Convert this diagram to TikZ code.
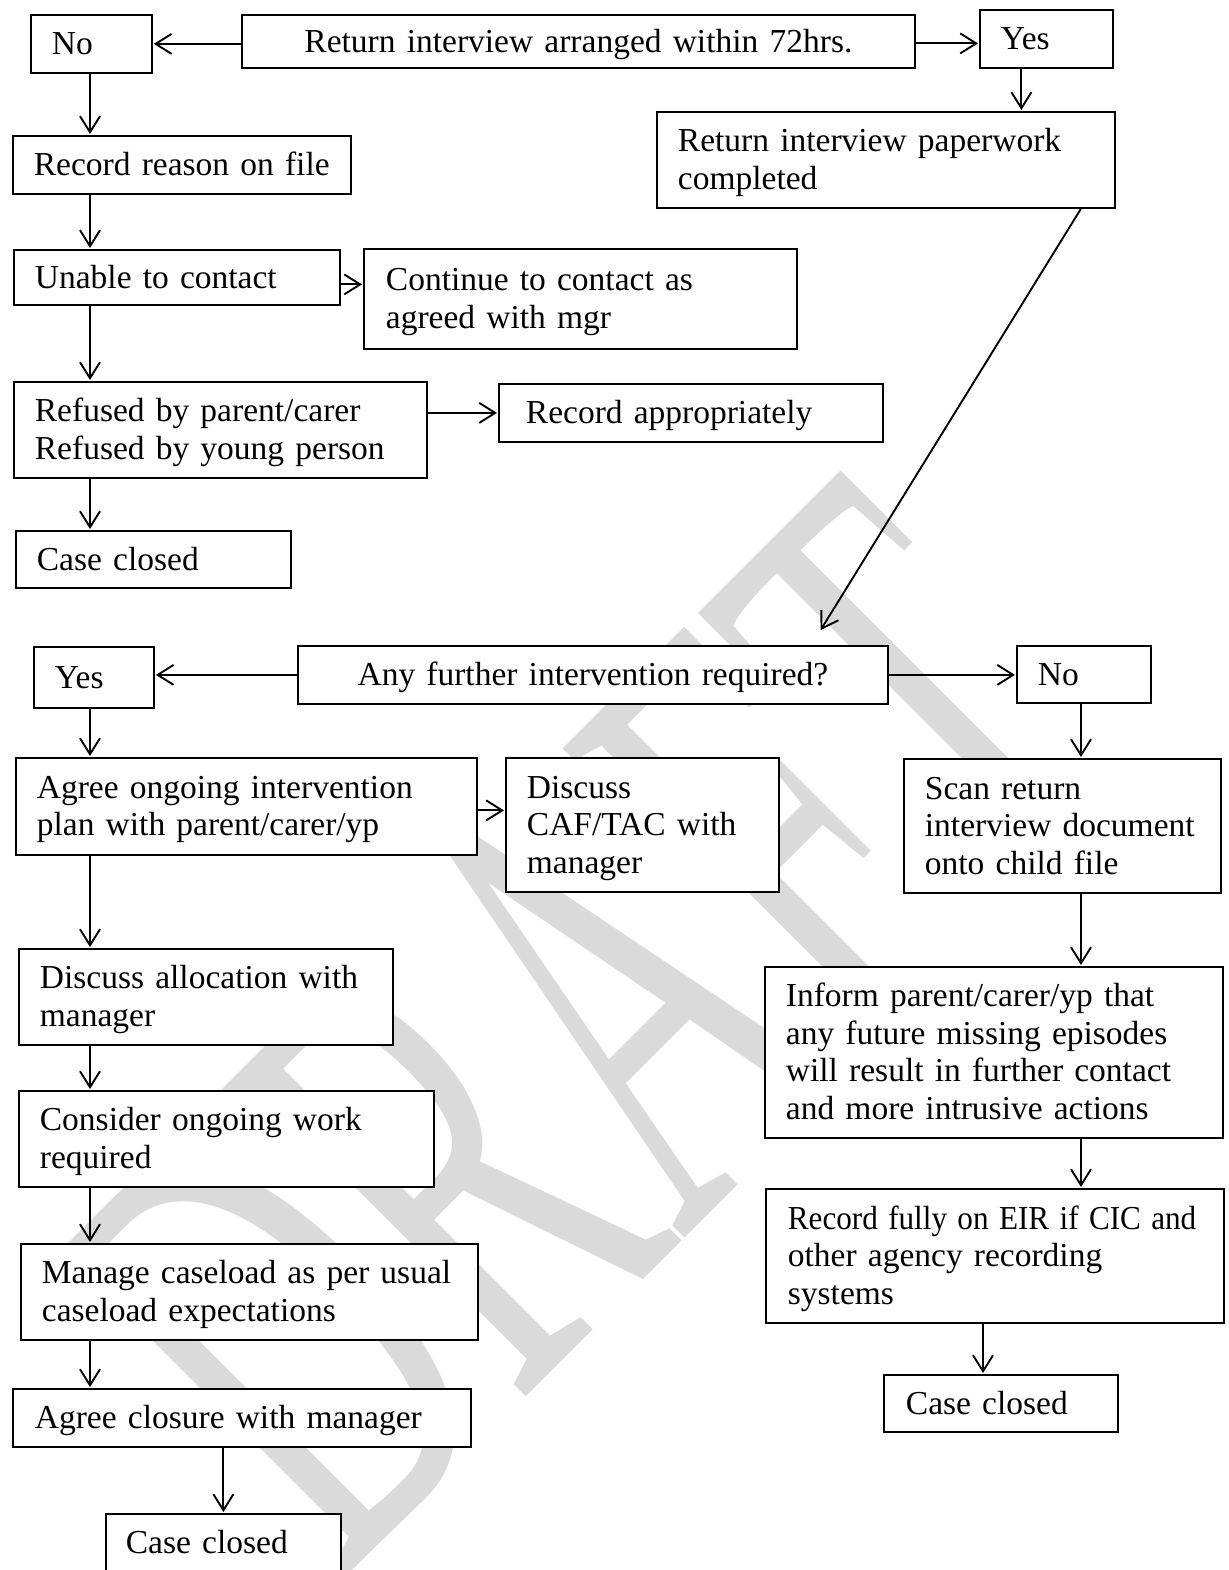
\documentclass[tikz,border=0pt]{standalone}
\usepackage{fontspec}
\setmainfont{Liberation Serif}[WordSpace=0.85]
\usepackage{graphicx}
\usetikzlibrary{arrows.meta,calc}
\definecolor{wm}{RGB}{218,218,218}
\newcommand\sL[1]{\mbox{\vrule height 29.5pt depth 8pt width 0pt\relax #1}}
\tikzset{
  box/.style={draw, line width=1.8pt, fill=white, anchor=north west,
    inner xsep=21pt, inner ysep=0pt, align=left,
    font={\fontsize{33.5}{37.5}\selectfont}},
  arr/.style={line width=1.9pt, shorten >=1pt,
    -{Straight Barb[length=16pt,width=20pt,line width=1.9pt]}},
}
\begin{document}
\begin{tikzpicture}[x=1pt,y=-1pt]
\clip (0,0) rectangle (1228,1570);
\fill[white] (0,0) rectangle (1228,1570);
% watermark
\node[rotate=45, anchor=base west, inner sep=0pt, text=wm] (wmk) at (339,1584)
  {\scalebox{3.5}[6.6]{\fontsize{100}{100}\selectfont DRAFT}};
% helper coordinates
\coordinate (L) at (90,0);
\coordinate (R) at (1081,0);
\coordinate (C2) at (983,0);
\coordinate (qtip) at (820,631);
% boxes
\node[box, minimum width=121pt, minimum height=58pt, text width=79pt] (no1) at (30,14) {\sL{No}};
\node[box, align=center, inner xsep=10pt, minimum width=673pt, minimum height=53pt, text width=653pt] (ret) at (241,14) {\sL{Return interview arranged within 72hrs.}};
\node[box, minimum width=133pt, minimum height=58pt, text width=91pt] (yes1) at (979,9) {\sL{Yes}};
\node[box, minimum width=458pt, minimum height=96pt, text width=416pt] (paper) at (656,111) {\sL{Return interview paperwork}\\\sL{completed}};
\node[box, minimum width=338pt, minimum height=58pt, text width=296pt] (rec) at (12,135) {\sL{Record reason on file}};
\node[box, minimum width=326pt, minimum height=55pt, text width=284pt] (unable) at (13,249) {\sL{Unable to contact}};
\node[box, inner xsep=22pt, minimum width=433pt, minimum height=100pt, text width=389pt] (cont) at (363,248) {\sL{Continue to contact as}\\\sL{agreed with mgr}};
\node[box, minimum width=413pt, minimum height=96pt, text width=371pt] (refused) at (13,381) {\sL{Refused by parent/carer}\\\sL{Refused by young person}};
\node[box, inner xsep=27pt, minimum width=384pt, minimum height=58pt, text width=330pt] (recapp) at (498,383) {\sL{Record appropriately}};
\node[box, minimum width=275pt, minimum height=57pt, text width=233pt] (case1) at (15,530) {\sL{Case closed}};
\node[box, minimum width=120pt, minimum height=61pt, text width=78pt] (yes2) at (33,646) {\sL{Yes}};
\node[box, align=center, inner xsep=10pt, minimum width=590pt, minimum height=58pt, text width=570pt] (q) at (297,645) {\sL{Any further intervention required?}};
\node[box, minimum width=134pt, minimum height=57pt, text width=92pt] (no2) at (1016,645) {\sL{No}};
\node[box, minimum width=461pt, minimum height=97pt, text width=419pt] (agree) at (15,757) {\sL{Agree ongoing intervention}\\\sL{plan with parent/carer/yp}};
\node[box, minimum width=273pt, minimum height=134pt, text width=231pt] (caf) at (505,757) {\sL{Discuss}\\\sL{CAF/TAC with}\\\sL{manager}};
\node[box, minimum width=317pt, minimum height=134pt, text width=275pt] (scan) at (903,758) {\sL{Scan return}\\\sL{interview document}\\\sL{onto child file}};
\node[box, minimum width=374pt, minimum height=96pt, text width=332pt] (alloc) at (18,948) {\sL{Discuss allocation with}\\\sL{manager}};
\node[box, minimum width=458pt, minimum height=171pt, text width=416pt] (inform) at (764,966) {\sL{Inform parent/carer/yp that}\\\sL{any future missing episodes}\\\sL{will result in further contact}\\\sL{and more intrusive actions}};
\node[box, minimum width=415pt, minimum height=96pt, text width=373pt] (consider) at (18,1090) {\sL{Consider ongoing work}\\\sL{required}};
\node[box, inner xsep=22pt, minimum width=458pt, minimum height=134pt, text width=414pt] (recfull) at (765,1188) {\sL{\scalebox{0.93}[1]{Record fully on EIR if CIC and}}\\\sL{other agency recording}\\\sL{systems}};
\node[box, minimum width=457pt, minimum height=96pt, text width=415pt] (manage) at (20,1243) {\sL{Manage caseload as per usual}\\\sL{caseload expectations}};
\node[box, inner xsep=22pt, minimum width=234pt, minimum height=57pt, text width=190pt] (case2) at (883,1374) {\sL{Case closed}};
\node[box, inner xsep=22pt, minimum width=458pt, minimum height=58pt, text width=414pt] (closure) at (12,1388) {\sL{Agree closure with manager}};
\node[box, inner xsep=20pt, minimum width=235pt, minimum height=58pt, text width=195pt] (case3) at (105,1513) {\sL{Case closed}};
% connectors
\draw[arr] (no1.east -| ret.west) -- (no1.east);
\draw[arr] ([yshift=-2pt]ret.east) -- ([yshift=-2pt]ret.east -| yes1.west);
\draw[arr] ([xshift=-25pt]yes1.south) -- ([xshift=-25pt]yes1.south |- paper.north);
\draw[arr] (no1.south -| L) -- (rec.north -| L);
\draw[arr] (rec.south -| L) -- (unable.north -| L);
\draw[arr] ([yshift=-7pt]unable.east) -- ([yshift=-7pt]unable.east -| cont.west);
\draw[arr] (unable.south -| L) -- (refused.north -| L);
\draw[arr] (refused.east |- recapp.west) -- (recapp.west);
\draw[arr] (refused.south -| L) -- (case1.north -| L);
\draw[arr] ([xshift=195pt]paper.south) -- (qtip);
\draw[arr] (q.west) -- (q.west -| yes2.east);
\draw[arr] (q.east) -- (q.east -| no2.west);
\draw[arr] (yes2.south -| L) -- (agree.north -| L);
\draw[arr] ([yshift=-4pt]agree.east) -- ([yshift=-4pt]agree.east -| caf.west);
\draw[arr] (no2.south -| R) -- (scan.north -| R);
\draw[arr] (agree.south -| L) -- (alloc.north -| L);
\draw[arr] (scan.south -| R) -- (inform.north -| R);
\draw[arr] (alloc.south -| L) -- (consider.north -| L);
\draw[arr] (inform.south -| R) -- (recfull.north -| R);
\draw[arr] (consider.south -| L) -- (manage.north -| L);
\draw[arr] (recfull.south -| C2) -- (case2.north -| C2);
\draw[arr] (manage.south -| L) -- (closure.north -| L);
\draw[arr] (closure.south -| case3.north) -- (case3.north);
\end{tikzpicture}
\end{document}
